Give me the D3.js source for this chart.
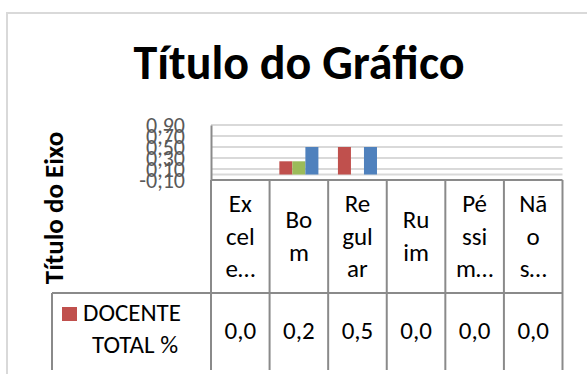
<!DOCTYPE html>
<html>
<head>
<meta charset="utf-8">
<script src="https://cdn.jsdelivr.net/npm/d3@7"></script>
<style>
  body { margin: 0; background: #fff; }
  svg { display: block; font-family: Carlito, Calibri, Lato, sans-serif; }
</style>
</head>
<body>
<div id="chart"></div>
<script>
// categories as shown in the data table header (wrapped by the narrow columns)
const categories = ["Ex\ncel\ne…", "Bo\nm", "Re\ngul\nar", "Ru\nim", "Pé\nssi\nm…", "Nã\no\ns…"];
const seriesNames = ["DOCENTE TOTAL %", "Série 2", "Série 3"];
const seriesColors = ["#c0504d", "#9bbb59", "#4f81bd"];
const docente = [0, 0.24, 0.5, 0, 0, 0];
const serie2 = [0, 0.24, 0, 0, 0, 0];
const serie3 = [0, 0.5, 0.5, 0, 0, 0];
const yTicks = [-0.1, 0.1, 0.3, 0.5, 0.7, 0.9];
const titleText = "Título do Gráfico";
const axisTitle = "Título do Eixo";

const width = 587, height = 374;
const plotLeft = 211, plotRight = 562.5;
const plotTop = 125, plotBottom = 180;
const headerBottom = 293, tableBottom = 370;
const tableLeft = 52;
const gridColor = "#d9d9d9", lineColor = "#8a8a8a";
const cellFont = 25;

const series = seriesNames.map((name, i) => ({
    name: name,
    color: seriesColors[i],
    values: [docente, serie2, serie3][i]
}));

const locale = d3.formatLocale({ decimal: ",", thousands: ".", grouping: [3], currency: ["R$", ""], minus: "-" });
const fmtTick = locale.format(".2f");
const fmtCell = locale.format(".1f");

const svg = d3.select("#chart").append("svg")
    .attr("width", width)
    .attr("height", height)
    .attr("viewBox", [0, 0, width, height]);

// chart area border
svg.append("rect")
    .attr("x", 7).attr("y", 13)
    .attr("width", width + 10).attr("height", height + 10)
    .attr("fill", "#fff")
    .attr("stroke", gridColor)
    .attr("stroke-width", 2);

// title
svg.append("text")
    .attr("x", 299).attr("y", 78.5)
    .attr("text-anchor", "middle")
    .attr("font-size", 48)
    .attr("font-weight", "bold")
    .attr("fill", "#000")
    .text(titleText);

// axis title
svg.append("text")
    .attr("transform", "translate(63,208) rotate(-90)")
    .attr("text-anchor", "middle")
    .attr("font-size", 27)
    .attr("font-weight", "bold")
    .attr("fill", "#000")
    .text(axisTitle);

const x0 = d3.scaleBand()
    .domain(categories)
    .range([plotLeft, plotRight])
    .paddingInner(0).paddingOuter(0);

const x1 = d3.scaleBand()
    .domain(seriesNames)
    .range([0, x0.bandwidth()])
    .paddingInner(0).paddingOuter(0.75);

const y = d3.scaleLinear()
    .domain([-0.1, 0.9])
    .range([plotBottom, plotTop]);

// gridlines
svg.append("g")
    .selectAll("line")
    .data(yTicks.filter(d => d > -0.1).concat([0]))
    .join("line")
    .attr("x1", plotLeft).attr("x2", plotRight)
    .attr("y1", d => y(d)).attr("y2", d => y(d))
    .attr("stroke", gridColor)
    .attr("stroke-width", 2);

// y axis
const yAxis = svg.append("g")
    .attr("transform", `translate(${plotLeft},0)`)
    .call(d3.axisLeft(y).tickValues(yTicks).tickSize(0).tickPadding(26).tickFormat(fmtTick));
yAxis.select(".domain").attr("stroke", lineColor).attr("stroke-width", 2);
yAxis.selectAll("text")
    .attr("font-family", "Carlito, Calibri, Lato, sans-serif")
    .attr("font-size", 22)
    .attr("fill", "#595959");

// bars
const groups = svg.append("g")
    .selectAll("g")
    .data(series)
    .join("g")
    .attr("fill", d => d.color);

groups.selectAll("rect")
    .data(d => d.values.map((v, i) => ({ name: d.name, cat: categories[i], value: v })))
    .join("rect")
    .attr("x", d => x0(d.cat) + x1(d.name))
    .attr("width", x1.bandwidth())
    .attr("y", d => y(Math.max(0, d.value)))
    .attr("height", d => Math.abs(y(d.value) - y(0)));

// data table
const table = svg.append("g")
    .attr("stroke", lineColor)
    .attr("stroke-width", 2)
    .attr("fill", "none");

table.append("line")
    .attr("x1", plotLeft).attr("x2", plotRight)
    .attr("y1", plotBottom).attr("y2", plotBottom);
table.append("line")
    .attr("x1", tableLeft).attr("x2", plotRight)
    .attr("y1", headerBottom).attr("y2", headerBottom);
table.append("line")
    .attr("x1", tableLeft).attr("x2", tableLeft)
    .attr("y1", headerBottom).attr("y2", tableBottom);
table.selectAll("line.col")
    .data(categories.map(c => x0(c)).concat([plotRight]))
    .join("line")
    .attr("class", "col")
    .attr("x1", d => d).attr("x2", d => d)
    .attr("y1", plotBottom).attr("y2", tableBottom);

// header labels
const headerMid = (plotBottom + headerBottom) / 2;
const lineH = 32.5;
svg.append("g")
    .selectAll("text")
    .data(categories)
    .join("text")
    .attr("text-anchor", "middle")
    .attr("font-size", cellFont)
    .attr("fill", "#000")
    .each(function (d) {
        const lines = d.split("\n");
        const cx = x0(d) + x0.bandwidth() / 2;
        d3.select(this).selectAll("tspan")
            .data(lines)
            .join("tspan")
            .attr("x", cx)
            .attr("y", (l, i) => headerMid + 8 + (i - (lines.length - 1) / 2) * lineH)
            .text(l => l);
    });

// legend cell of the data row
svg.append("rect")
    .attr("x", 62).attr("y", 307)
    .attr("width", 15).attr("height", 14)
    .attr("fill", series[0].color);
svg.append("text")
    .attr("x", 83).attr("y", 320.7)
    .attr("font-size", cellFont)
    .attr("fill", "#000")
    .text("DOCENTE");
svg.append("text")
    .attr("x", 135).attr("y", 353.3)
    .attr("text-anchor", "middle")
    .attr("font-size", cellFont)
    .attr("fill", "#000")
    .text("TOTAL %");

// values of the data row
svg.append("g")
    .selectAll("text")
    .data(docente)
    .join("text")
    .attr("x", (d, i) => x0(categories[i]) + x0.bandwidth() / 2)
    .attr("y", 338.5)
    .attr("text-anchor", "middle")
    .attr("font-size", cellFont)
    .attr("fill", "#000")
    .text(d => fmtCell(d));
</script>
</body>
</html>
